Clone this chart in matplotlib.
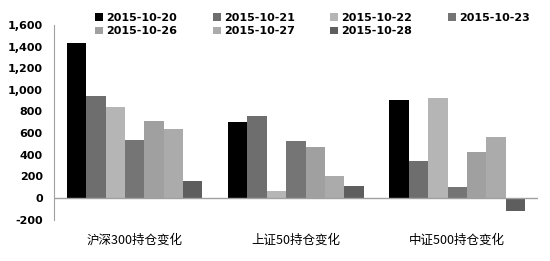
import matplotlib.pyplot as plt
import numpy as np

plt.rcParams['font.family'] = ['Noto Sans CJK SC', 'DejaVu Sans']

categories = ['沪深300持仓变化', '上证50持仓变化', '中证500持仓变化']
dates = ['2015-10-20', '2015-10-21', '2015-10-22', '2015-10-23',
         '2015-10-26', '2015-10-27', '2015-10-28']
values = [
    [1430, 707, 902],
    [940, 756, 344],
    [837, 65, 927],
    [533, 524, 99],
    [710, 468, 425],
    [642, 207, 565],
    [152, 114, -121],
]
colors = ['#000000', '#6e6e6e', '#b5b5b5', '#757575', '#a0a0a0', '#ababab', '#5e5e5e']

fig = plt.figure(figsize=(5.5, 2.61), dpi=100)
ax = fig.add_axes([0.098, 0.159, 0.88, 0.745])

x = np.arange(len(categories))
w = 0.12
bars = []
for i, (d, v) in enumerate(zip(dates, values)):
    b = ax.bar(x - 3 * w + i * w, v, width=w, color=colors[i], label=d, linewidth=0)
    bars.append(b)

ax.set_xlim(-0.5, 2.5)
ax.set_ylim(-200, 1600)
ax.set_yticks(range(-200, 1601, 200))
ax.set_yticklabels([f'{t:,}' for t in range(-200, 1601, 200)],
                   fontsize=8, fontweight='bold', family='DejaVu Sans')
ax.tick_params(axis='y', length=0, pad=8)
ax.set_xticks([])
ax.axhline(0, color='#a0a0a0', linewidth=1)
for s in ['top', 'right', 'bottom']:
    ax.spines[s].set_visible(False)
ax.spines['left'].set_color('#a0a0a0')

for xi, c in zip(x, categories):
    ax.text(xi, -0.105, c, transform=ax.get_xaxis_transform(),
            ha='center', va='center', fontsize=9)

# legend filled row by row like the original
order = [0, 4, 1, 5, 2, 6, 3]
fig.legend([bars[i] for i in order], [dates[i] for i in order],
           ncol=4, loc='upper left', bbox_to_anchor=(0.155, 0.99),
           frameon=False, handlelength=0.7, handleheight=0.7,
           handletextpad=0.3, columnspacing=3.2, labelspacing=0.35,
           prop={'family': 'DejaVu Sans', 'weight': 'bold', 'size': 8})

fig.savefig('out.png')
